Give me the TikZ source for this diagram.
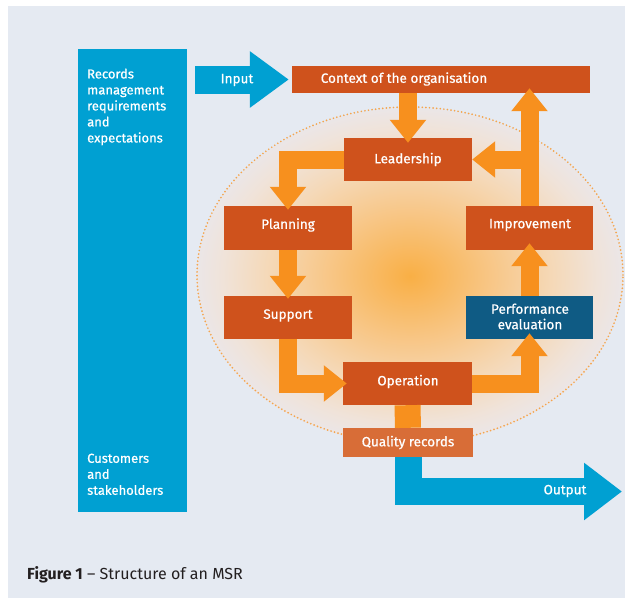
\documentclass[tikz,border=0pt]{standalone}
\usepackage{fontspec}
\setmainfont{Fira Sans}
\newfontfamily\medfont{Fira Sans}[FakeBold=0.6]
\usetikzlibrary{arrows.meta}
\definecolor{bg}{HTML}{E5EAF2}
\definecolor{mblue}{HTML}{00A0D2}
\definecolor{boxorange}{HTML}{CF521C}
\definecolor{arrorange}{HTML}{F7901E}
\definecolor{perfblue}{HTML}{0F5B84}
\definecolor{qrorange}{HTML}{D86D37}
\definecolor{dotorange}{HTML}{F5A54E}
\definecolor{captext}{HTML}{231F20}
\definecolor{glowA}{HTML}{F9AF45}
\definecolor{glowB}{HTML}{F8C583}
\definecolor{glowC}{HTML}{F5D8B6}
\definecolor{glowD}{HTML}{F0E3D9}
\definecolor{glowE}{HTML}{EBE6E7}
\pgfdeclareradialshading{glowshade}{\pgfpointorigin}{color(0bp)=(glowA); color(9bp)=(glowB); color(16.5bp)=(glowC); color(22bp)=(glowD); color(25bp)=(glowE); color(50bp)=(glowE)}
\begin{document}
\begin{tikzpicture}[x=1pt,y=-1pt,
  boxfont/.style={font=\medfont\fontsize{13.5}{15}\selectfont},
  obox/.style={boxfont, fill=boxorange, text=white, inner sep=0pt, align=center},
  lbl/.style={boxfont, text=white, inner sep=0pt, align=center},
  coltext/.style={font=\medfont\fontsize{13}{16}\selectfont, text=white, inner sep=0pt, align=left},
  oarrow/.style={draw=arrorange, line width=18pt, -{Triangle[length=23pt,width=35pt]}},
  barrow/.style={draw=mblue, line width=27pt}
]
\useasboundingbox (0,0) rectangle (625,598);
\fill[white] (0,0) rectangle (625,598);
\fill[bg] (8,6) rectangle (625,598);
% glow and dotted ellipse
\shade[shading=glowshade] (410,276) ellipse [x radius=213pt, y radius=168pt];
\draw[dotorange, line width=1.9pt, dash pattern=on 0pt off 3.6pt, line cap=round] (410,275) ellipse [x radius=213pt, y radius=168pt];
% left column
\node[fill=mblue, minimum width=109pt, minimum height=463pt, inner sep=0pt] (col) at (132.5,280.5) {};
\node[coltext, anchor=north west] (reqtxt) at (87,68.5) {Records\\management\\requirements\\and\\expectations};
\node[coltext, anchor=north west] (custtxt) at (87,453.5) {Customers\\and\\stakeholders};
% boxes
\node[obox, minimum width=298pt, minimum height=27pt] (ctx) at (441,79.5) {};
\node[lbl] (ctxlbl) at (404,79) {Context of the organisation};
\node[obox, minimum width=128pt, minimum height=43pt] (lead) at (408,159.5) {Leadership};
\node[obox, minimum width=128pt, minimum height=44pt] (plan) at (288,228) {};
\node[lbl] (planlbl) at (288,225) {Planning};
\node[obox, minimum width=128pt, minimum height=43pt] (sup) at (288,317.5) {};
\node[lbl] (suplbl) at (288,315.5) {Support};
\node[obox, minimum width=129pt, minimum height=43pt] (op) at (407.5,383.5) {};
\node[lbl] (oplbl) at (408,381.5) {Operation};
\node[obox, fill=qrorange, minimum width=130pt, minimum height=29pt] (qr) at (408,442.5) {Quality records};
\node[obox, minimum width=127pt, minimum height=44pt] (imp) at (529.5,228) {};
\node[lbl] (implbl) at (530,225) {Improvement};
\node[obox, fill=perfblue, minimum width=127pt, minimum height=43pt] (perf) at (529.5,317.5) {};
\node[lbl, font=\medfont\fontsize{13.5}{15.5}\selectfont] (perflbl) at (530,316.5) {Performance\\evaluation};
% input arrow
\draw[draw=mblue, line width=28pt, -{Triangle[length=39pt,width=54pt]}, shorten <=8pt, shorten >=3pt] (col.east |- ctx.west) -- (ctx.west);
\node[lbl] (inlbl) at (237,80) {Input};
% orange arrows
\draw[oarrow, shorten >=-5pt] (lead.north |- ctx.south) -- (lead.north);
\draw[oarrow, shorten >=-4pt] (lead.west) -| (plan.north);
\draw[oarrow, shorten >=-3pt] (plan.south) -- (sup.north);
\draw[oarrow, shorten >=-4pt] (sup.south) |- (op.west);
\draw[oarrow, shorten >=-6pt] (op.east) -| (perf.south);
\draw[oarrow, shorten >=-7pt] (perf.north) -- (imp.south);
\draw[oarrow, shorten >=-5pt] (imp.north) -- (imp.north |- ctx.south);
\draw[oarrow] (imp.north |- lead.east) -- (lead.east);
% operation to quality records
\draw[draw=arrorange, line width=26pt] (op.south) -- (qr.north);
% output arrow
\coordinate (outtip) at (622,491.5);
\draw[barrow, -{Triangle[length=38pt,width=55pt]}] (qr.south) |- (outtip);
\node[lbl] (outlbl) at (565,491) {Output};
% caption
\node[anchor=base west, text=captext, inner sep=0pt, font=\fontsize{16}{18}\selectfont] (cap) at (27,579) {\textbf{Figure 1} – Structure of an MSR};
\end{tikzpicture}
\end{document}
